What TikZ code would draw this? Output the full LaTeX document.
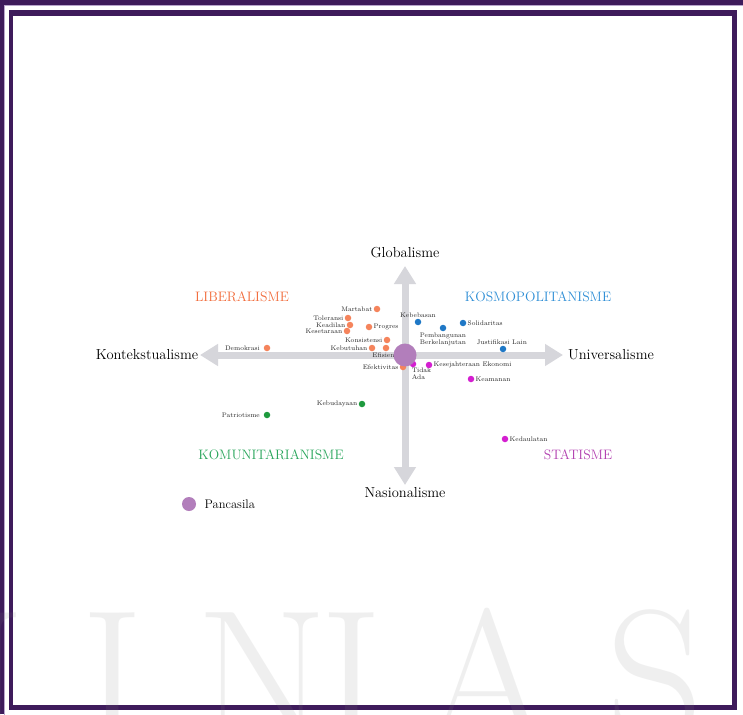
\documentclass[tikz,border=0pt]{standalone}
\usepackage{tikz}
\usetikzlibrary{positioning, arrows.meta, calc}
\definecolor{ungu}{HTML}{3E1B5B}
\definecolor{lavender}{HTML}{B9A6CC}
\definecolor{sumbu}{HTML}{D6D6DB}
\definecolor{oranye}{HTML}{F5845C}
\definecolor{oranyeteks}{HTML}{F26B3A}
\definecolor{biru}{HTML}{1F78C6}
\definecolor{biruteks}{HTML}{2D8ED6}
\definecolor{hijau}{HTML}{1E9A3E}
\definecolor{hijauteks}{HTML}{27A55A}
\definecolor{magentatitik}{HTML}{D41FD0}
\definecolor{unguteks}{HTML}{B23FB0}
\definecolor{pancasila}{HTML}{B27EBB}
\tikzset{
  axis/.style={line width=7pt, draw=sumbu, {Triangle[width=21pt,length=18pt]}-{Triangle[width=21pt,length=18pt]}},
  titik/.style={circle, inner sep=0pt, minimum size=6.5pt},
  ket/.style={font=\fontsize{6.6}{7.4}\selectfont, text=black!85, inner sep=1pt, align=left},
  sumbuteks/.style={font=\fontsize{14.5}{16}\selectfont, text=black},
  kuadran/.style={font=\fontsize{13.7}{15}\selectfont},
  tandaair/.style={font=\fontsize{190}{190}\selectfont, text=gray, text opacity=0.12, anchor=base, inner sep=0pt}
}

\begin{document}
\begin{tikzpicture}[x=1pt, y=-1pt]
    \useasboundingbox (0,0) rectangle (743,714);

    % Bingkai halaman
    \fill[ungu] (0,0) rectangle (743,714);
    \filldraw[fill=white, draw=lavender, line width=1pt] (4.5,5.5) rectangle (746,717);
    \fill[ungu] (8.5,10) rectangle (737,710);
    \fill[white] (13,16) rectangle (732,705);

    % --- SUMBU ---
    \coordinate (pusat) at (405,355);
    \coordinate (ujungkiri) at (200,355);
    \coordinate (ujungkanan) at (563,355);
    \coordinate (ujungatas) at (405,266);
    \coordinate (ujungbawah) at (405,485);
    \draw[axis] (ujungkiri) -- (ujungkanan);
    \draw[axis] (ujungatas) -- (ujungbawah);

    \node[sumbuteks] (glob) at (405,253) {Globalisme};
    \node[sumbuteks] (nas) at (405,493) {Nasionalisme};
    \node[sumbuteks] (konteks) at (147,355) {Kontekstualisme};
    \node[sumbuteks] (univ) at (611,355) {Universalisme};

    % Nama kuadran
    \node[kuadran, text=oranyeteks] (liberal) at (242,297) {LIBERALISME};
    \node[kuadran, text=biruteks] (kosmo) at (538,297) {KOSMOPOLITANISME};
    \node[kuadran, text=hijauteks] (komun) at (271,455) {KOMUNITARIANISME};
    \node[kuadran, text=unguteks] (statis) at (578,455) {STATISME};

    % --- NILAI-NILAI ---
    % Liberalisme (oranye)
    \foreach \nm/\x/\y/\sisi/\anc/\teks in {
        martabat/377/309/west/east/Martabat,
        toleransi/348/318/west/east/Toleransi,
        keadilan/350/325/west/east/Keadilan,
        kesetaraan/347/331/west/east/Kesetaraan,
        progres/369/327/east/west/Progres,
        konsistensi/387/340/west/east/Konsistensi,
        kebutuhan/372/348/west/east/Kebutuhan,
        efisiensi/386/348/south/north/Efisiensi,
        efektivitas/403/367/west/east/Efektivitas,
        demokrasi/267/348/west/east/Demokrasi
    } {
        \node[titik, fill=oranye] (\nm) at (\x,\y) {};
        \node[ket, anchor=\anc] (t\nm) at (\nm.\sisi) {\teks};
    }

    % Kosmopolitanisme (biru)
    \foreach \nm/\x/\y/\sisi/\anc/\teks in {
        kebebasan/418/322/north/south/Kebebasan,
        pembangunan/443/328/south/north/{Pembangunan\\Berkelanjutan},
        solidaritas/463/323/east/west/Solidaritas,
        justifikasi/503/349/north/south/Justifikasi Lain
    } {
        \node[titik, fill=biru] (\nm) at (\x,\y) {};
        \node[ket, anchor=\anc] (t\nm) at (\nm.\sisi) {\teks};
    }

    % Statisme (magenta)
    \foreach \nm/\x/\y/\sisi/\anc/\teks in {
        tidakada/413/364/south west/north west/{Tidak\\Ada},
        kesejahteraan/429/365/east/west/Kesejahteraan Ekonomi,
        keamanan/471/379/east/west/Keamanan,
        kedaulatan/505/439/east/west/Kedaulatan
    } {
        \node[titik, fill=magentatitik] (\nm) at (\x,\y) {};
        \node[ket, anchor=\anc] (t\nm) at (\nm.\sisi) {\teks};
    }

    % Komunitarianisme (hijau)
    \foreach \nm/\x/\y/\sisi/\anc/\teks in {
        kebudayaan/362/404/west/east/Kebudayaan,
        patriotisme/267/415/west/east/Patriotisme
    } {
        \node[titik, fill=hijau] (\nm) at (\x,\y) {};
        \node[ket, anchor=\anc] (t\nm) at (\nm.\sisi) {\teks};
    }

    % Posisi Pancasila
    \node[circle, fill=pancasila, inner sep=0pt, minimum size=23pt] (pancasila) at (pusat) {};

    % Legenda
    \node[circle, fill=pancasila, inner sep=0pt, minimum size=14pt] (legenda) at (189,504) {};
    \node[font=\fontsize{12.5}{14}\selectfont, right=5pt of legenda] (tlegenda) {Pancasila};

    % Tanda air
    \begin{scope}
        \clip (0,0) rectangle (743,714);
        \foreach \huruf/\x [count=\i] in {N/-40, I/113, N/262, I/352, A/487, S/655}
            \node[tandaair] (air\i) at (\x,742) {\huruf};
    \end{scope}

\end{tikzpicture}
\end{document}
